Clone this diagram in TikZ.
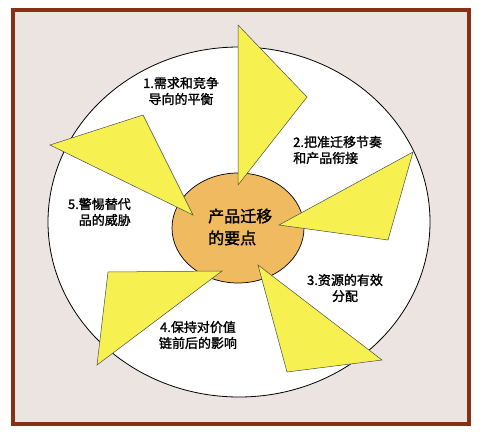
\documentclass[tikz,border=0pt]{standalone}
\usepackage{fontspec}
\newfontfamily\cjk{Noto Sans CJK SC}[FakeBold=1.6]
\definecolor{framebrown}{RGB}{135,48,22}
\definecolor{bgbeige}{RGB}{236,228,224}
\definecolor{arrowyellow}{RGB}{246,241,80}
\definecolor{huborange}{RGB}{240,186,96}
\tikzset{
  blade/.style={fill=arrowyellow, draw=black!70, line width=0.5pt, line join=miter},
  pointlabel/.style={font=\cjk\fontsize{13}{16}\selectfont, inner sep=0pt},
  hublabel/.style={font=\cjk\fontsize{16}{22}\selectfont, inner sep=0pt, align=left}
}
\begin{document}
\begin{tikzpicture}[x=1pt,y=-1pt]
  \useasboundingbox (0,0) rectangle (484,436);
  \fill[white] (0,0) rectangle (484,436);
  % frame and rim
  \draw[framebrown, line width=3.5pt, fill=bgbeige] (13,10) rectangle (469,424);
  \draw[black, line width=0.8pt, fill=white] (239,222) ellipse (191 and 175);
  % hub
  \draw[black, line width=0.7pt, fill=huborange] (238,228) ellipse (66 and 55);
  % five blades
  \draw[blade] (238,25) -- (307,97) -- (238,185) -- cycle;
  \draw[blade] (413,152) -- (388,240) -- (279,225) -- cycle;
  \draw[blade] (258,265) -- (382,360) -- (287,372) -- cycle;
  \draw[blade] (222,271) -- (108,272) -- (97,365) -- cycle;
  \draw[blade] (50,145) -- (143,115) -- (193,215) -- cycle;
  % texts
  \node[hublabel, anchor=west] (hub) at (208,227) {产品迁移\\的要点};
  \node[pointlabel, align=center] (p1) at (181,91) {1.需求和竞争\\导向的平衡};
  \node[pointlabel, align=left, anchor=west] (p2) at (293,150) {2.把准迁移节奏\\和产品衔接};
  \node[pointlabel, align=center] (p3) at (345,288) {3.资源的有效\\分配};
  \node[pointlabel, align=center] (p4) at (198,335) {4.保持对价值\\链前后的影响};
  \node[pointlabel, align=right, anchor=east] (p5) at (131,212) {5.警惕替代\\品的威胁};
\end{tikzpicture}
\end{document}
